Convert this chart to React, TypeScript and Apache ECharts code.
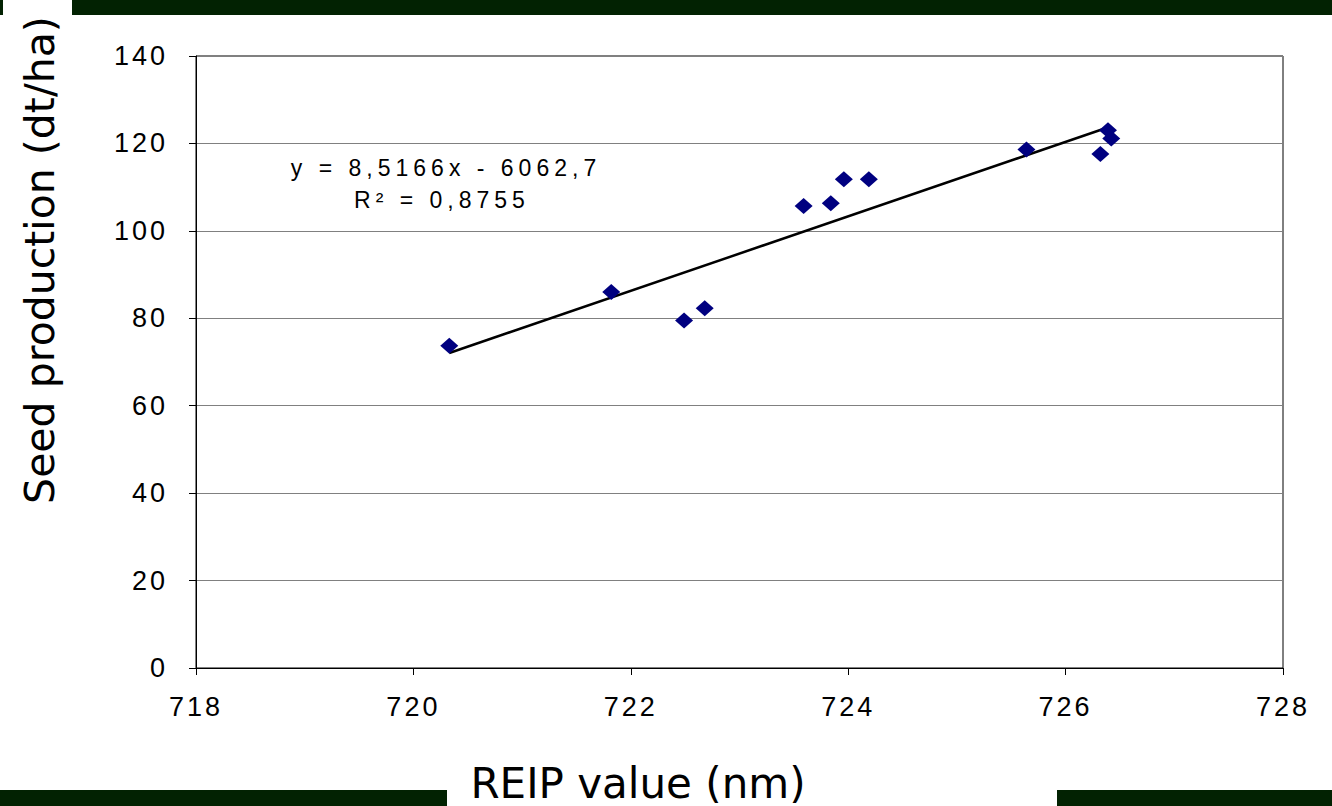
import React, { useEffect, useRef } from "react";
import * as echarts from "echarts";

const reipValues = [720.33, 721.82, 722.49, 722.68, 723.59, 723.84, 723.96, 724.19, 725.64, 726.32, 726.39, 726.42];
const seedProduction = [73.7, 86.0, 79.5, 82.3, 105.7, 106.3, 111.8, 111.8, 118.6, 117.6, 123.0, 121.1];
const xTicks = { min: 718, max: 728, interval: 2 };
const yTicks = { min: 0, max: 140, interval: 20 };
const slope = 8.5166;
const intercept = -6062.7;
const equationLabel = "y = 8,5166x - 6062,7";
const r2Label = "R² = 0,8755";
const xTitle = "REIP value (nm)";
const yTitle = "Seed production (dt/ha)";

const ARIAL = "Liberation Sans, Arial, sans-serif";
const VERDANA = "DejaVu Sans, Verdana, sans-serif";

export default function App() {
  const ref = useRef<HTMLDivElement>(null);
  useEffect(() => {
    document.body.style.margin = "0";
    const chart = echarts.init(ref.current!, null, { renderer: "svg" });
    const xs = reipValues;
    const xMinD = Math.min(...xs);
    const xMaxD = Math.max(...xs);
    const trend = [
      [xMinD, slope * xMinD + intercept],
      [xMaxD, slope * xMaxD + intercept],
    ];
    const green = "#022202";
    chart.setOption({
      animation: false,
      backgroundColor: "#ffffff",
      grid: {
        left: 196,
        top: 56,
        width: 1087,
        height: 612,
        show: true,
        borderColor: "#000000",
        borderWidth: 1,
        containLabel: false,
      },
      xAxis: {
        type: "value",
        min: xTicks.min,
        max: xTicks.max,
        interval: xTicks.interval,
        axisLine: { show: true, onZero: false, lineStyle: { color: "#000", width: 1 } },
        axisTick: { show: true, length: 7, lineStyle: { color: "#000" } },
        axisLabel: { margin: 25, fontSize: 27, fontFamily: ARIAL, color: "#000" },
        splitLine: { show: false },
      },
      yAxis: {
        type: "value",
        min: yTicks.min,
        max: yTicks.max,
        interval: yTicks.interval,
        axisLine: { show: true, onZero: false, lineStyle: { color: "#000", width: 1 } },
        axisTick: { show: true, length: 7, lineStyle: { color: "#000" } },
        axisLabel: { margin: 28, fontSize: 27, fontFamily: ARIAL, color: "#000" },
        splitLine: { show: true, lineStyle: { color: "#808080", width: 1 } },
      },
      series: [
        {
          type: "line",
          data: trend,
          symbol: "none",
          lineStyle: { color: "#000", width: 2.5 },
          z: 2,
        },
        {
          type: "scatter",
          data: xs.map((x, i) => [x, seedProduction[i]]),
          symbol: "diamond",
          symbolSize: [18, 16],
          itemStyle: { color: "#000080", opacity: 1 },
          z: 3,
        },
      ],
      graphic: [
        { type: "rect", shape: { x: 72, y: 0, width: 1260, height: 15 }, style: { fill: green } },
        { type: "rect", shape: { x: 0, y: 0, width: 3, height: 15 }, style: { fill: green } },
        { type: "rect", shape: { x: 0, y: 790, width: 447, height: 16 }, style: { fill: green } },
        { type: "rect", shape: { x: 1057, y: 790, width: 275, height: 16 }, style: { fill: green } },
        {
          type: "text",
          x: 446,
          y: 168,
          style: {
            text: equationLabel,
            fontSize: 23,
            fontFamily: ARIAL,
            fill: "#000",
            align: "center",
            verticalAlign: "middle",
          },
        },
        {
          type: "text",
          x: 442,
          y: 200,
          style: {
            text: r2Label,
            fontSize: 23,
            fontFamily: ARIAL,
            fill: "#000",
            align: "center",
            verticalAlign: "middle",
          },
        },
        {
          type: "text",
          x: 638,
          y: 783,
          style: {
            text: xTitle,
            fontSize: 42,
            fontFamily: VERDANA,
            fill: "#000",
            align: "center",
            verticalAlign: "middle",
          },
        },
        {
          type: "text",
          x: 40,
          y: 260,
          rotation: Math.PI / 2,
          style: {
            text: yTitle,
            fontSize: 41,
            fontFamily: VERDANA,
            fill: "#000",
            align: "center",
            verticalAlign: "middle",
          },
        },
      ],
    });
    // Emulate the letter spacing of the original slide text
    const svg = ref.current!.querySelector("svg");
    if (svg) {
      svg.querySelectorAll("text").forEach((t) => {
        const s = t.textContent || "";
        if (/^\d+$/.test(s)) t.setAttribute("letter-spacing", "3");
        else if (s === equationLabel || s === r2Label) t.setAttribute("letter-spacing", "5");
      });
    }
    return () => chart.dispose();
  }, []);
  return (
    <div
      ref={ref}
      style={{ position: "absolute", left: 0, top: 0, width: 1332, height: 806 }}
    />
  );
}
